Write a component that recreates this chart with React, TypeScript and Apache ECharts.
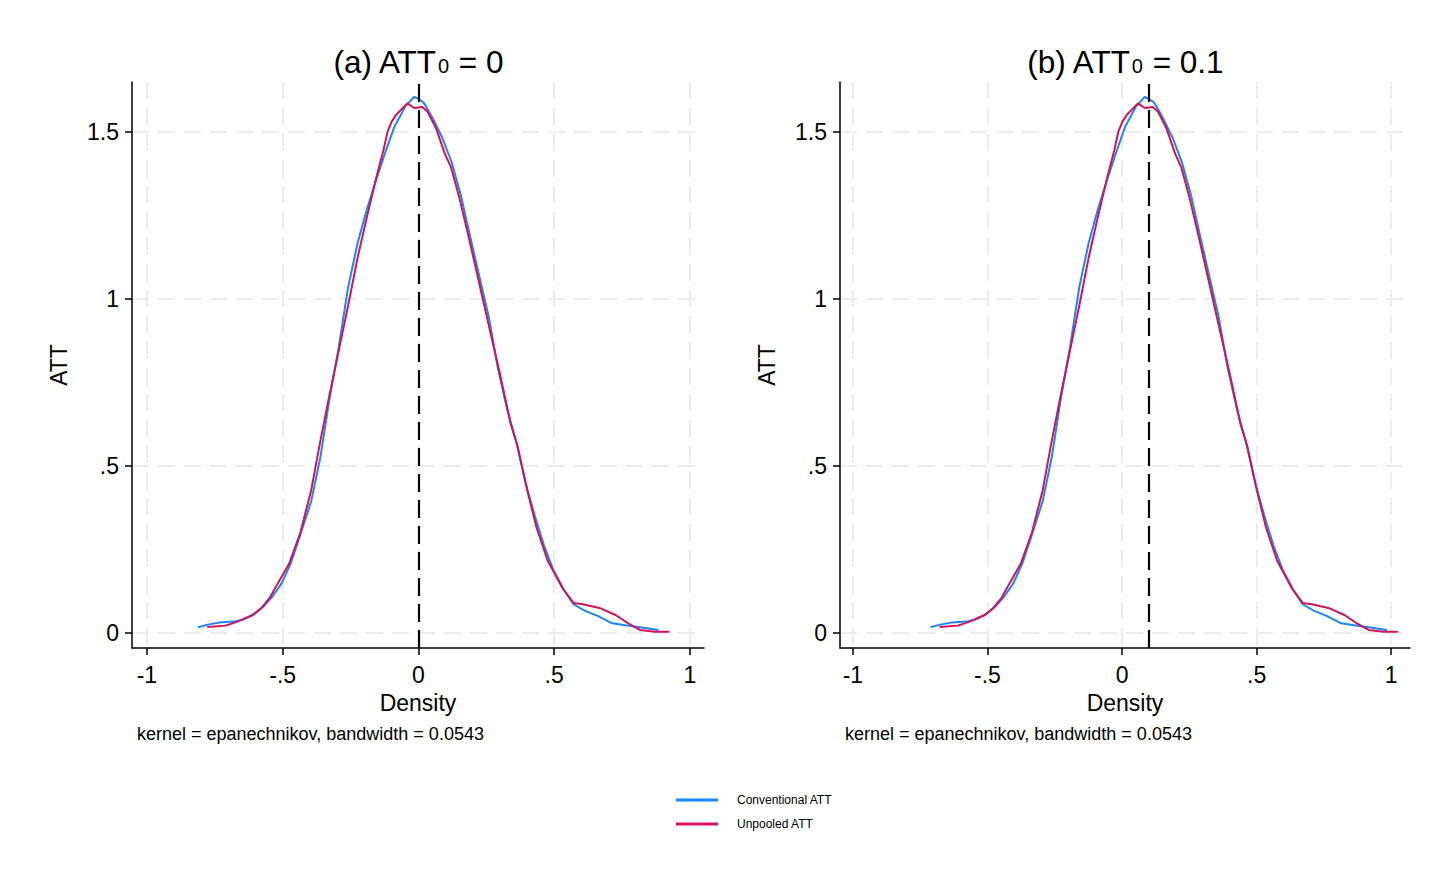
import React, { useEffect, useRef } from "react";
import * as echarts from "echarts";

const xTicks = [-1, -0.5, 0, 0.5, 1];
const yTicks = [0, 0.5, 1, 1.5];

// Panel (a): ATT0 = 0
const convX_a = [-0.812, -0.776, -0.735, -0.68, -0.646, -0.605, -0.571, -0.537, -0.503, -0.469, -0.435, -0.395, -0.361, -0.327, -0.293, -0.259, -0.224, -0.19, -0.156, -0.122, -0.088, -0.048, -0.016, 0.0, 0.02, 0.054, 0.088, 0.122, 0.156, 0.19, 0.224, 0.259, 0.293, 0.327, 0.361, 0.395, 0.429, 0.463, 0.497, 0.537, 0.571, 0.612, 0.66, 0.714, 0.762, 0.816, 0.884];
const convY_a = [0.017, 0.025, 0.031, 0.034, 0.04, 0.056, 0.079, 0.11, 0.15, 0.211, 0.294, 0.394, 0.527, 0.704, 0.858, 1.035, 1.168, 1.268, 1.356, 1.439, 1.517, 1.577, 1.605, 1.6, 1.588, 1.539, 1.483, 1.411, 1.312, 1.19, 1.069, 0.947, 0.792, 0.67, 0.571, 0.449, 0.35, 0.261, 0.189, 0.128, 0.086, 0.067, 0.051, 0.029, 0.023, 0.017, 0.009];
const unpX_a = [-0.778, -0.71, -0.667, -0.612, -0.578, -0.547, -0.517, -0.476, -0.435, -0.395, -0.361, -0.327, -0.293, -0.259, -0.224, -0.19, -0.156, -0.129, -0.113, -0.098, -0.082, -0.041, -0.016, 0.014, 0.034, 0.065, 0.098, 0.12, 0.15, 0.184, 0.218, 0.252, 0.299, 0.34, 0.365, 0.401, 0.435, 0.476, 0.531, 0.571, 0.605, 0.667, 0.728, 0.776, 0.816, 0.871, 0.925];
const unpY_a = [0.018, 0.022, 0.034, 0.053, 0.075, 0.106, 0.15, 0.208, 0.3, 0.427, 0.576, 0.715, 0.847, 0.98, 1.124, 1.245, 1.361, 1.445, 1.503, 1.532, 1.552, 1.586, 1.572, 1.575, 1.561, 1.511, 1.434, 1.395, 1.306, 1.19, 1.069, 0.947, 0.781, 0.626, 0.56, 0.427, 0.316, 0.217, 0.134, 0.09, 0.086, 0.075, 0.053, 0.027, 0.009, 0.004, 0.004];

// Panel (b): ATT0 = 0.1
const convX_b = [-0.712, -0.676, -0.635, -0.58, -0.546, -0.505, -0.471, -0.437, -0.403, -0.369, -0.335, -0.295, -0.261, -0.227, -0.193, -0.159, -0.124, -0.09, -0.056, -0.022, 0.012, 0.052, 0.084, 0.1, 0.12, 0.154, 0.188, 0.222, 0.256, 0.29, 0.324, 0.359, 0.393, 0.427, 0.461, 0.495, 0.529, 0.563, 0.597, 0.637, 0.671, 0.712, 0.76, 0.814, 0.862, 0.916, 0.984];
const convY_b = [0.017, 0.025, 0.031, 0.034, 0.04, 0.056, 0.079, 0.11, 0.15, 0.211, 0.294, 0.394, 0.527, 0.704, 0.858, 1.035, 1.168, 1.268, 1.356, 1.439, 1.517, 1.577, 1.605, 1.6, 1.588, 1.539, 1.483, 1.411, 1.312, 1.19, 1.069, 0.947, 0.792, 0.67, 0.571, 0.449, 0.35, 0.261, 0.189, 0.128, 0.086, 0.067, 0.051, 0.029, 0.023, 0.017, 0.009];
const unpX_b = [-0.678, -0.61, -0.567, -0.512, -0.478, -0.447, -0.417, -0.376, -0.335, -0.295, -0.261, -0.227, -0.193, -0.159, -0.124, -0.09, -0.056, -0.029, -0.013, 0.002, 0.018, 0.059, 0.084, 0.114, 0.134, 0.165, 0.198, 0.22, 0.25, 0.284, 0.318, 0.352, 0.399, 0.44, 0.465, 0.501, 0.535, 0.576, 0.631, 0.671, 0.705, 0.767, 0.828, 0.876, 0.916, 0.971, 1.025];
const unpY_b = [0.018, 0.022, 0.034, 0.053, 0.075, 0.106, 0.15, 0.208, 0.3, 0.427, 0.576, 0.715, 0.847, 0.98, 1.124, 1.245, 1.361, 1.445, 1.503, 1.532, 1.552, 1.586, 1.572, 1.575, 1.561, 1.511, 1.434, 1.395, 1.306, 1.19, 1.069, 0.947, 0.781, 0.626, 0.56, 0.427, 0.316, 0.217, 0.134, 0.09, 0.086, 0.075, 0.053, 0.027, 0.009, 0.004, 0.004];

const refLines = [0, 0.1];
const seriesNames = ["Conventional ATT", "Unpooled ATT"];
const colors = ["#1a85ff", "#d41159"];
const noteText = "kernel = epanechnikov, bandwidth = 0.0543";

const FONT = "Liberation Sans, Arial, sans-serif";

const fmt = (v: number) => {
  if (v === 0) return "0";
  const s = String(Math.abs(v)).replace(/^0/, "");
  return (v < 0 ? "-" : "") + s;
};

const zip = (xs: number[], ys: number[]) => xs.map((x, i) => [x, ys[i]]);

export default function App() {
  const ref = useRef<HTMLDivElement>(null);
  useEffect(() => {
    if (!ref.current) return;
    const chart = echarts.init(ref.current, null, { renderer: "svg" });
    const grids = [
      { left: 132, top: 82, width: 572, height: 566 },
      { left: 840, top: 82, width: 570, height: 566 },
    ];
    const xRanges = [
      [-1.055, 1.052],
      [-1.048, 1.07],
    ];
    const splitStyle = { color: "#ececec", width: 2, type: [17, 9] };
    const xAxes = grids.map((_, i) => ({
      type: "value",
      gridIndex: i,
      min: xRanges[i][0],
      max: xRanges[i][1],
      axisLine: { show: true, onZero: false, lineStyle: { color: "#000", width: 1.5 } },
      axisTick: { show: true, length: 7, customValues: xTicks, lineStyle: { color: "#000", width: 1.5 } },
      axisLabel: { customValues: xTicks, formatter: fmt, fontSize: 23, color: "#000", margin: 15, fontFamily: FONT },
      splitLine: { show: true, lineStyle: splitStyle },
      name: "Density",
      nameLocation: "middle",
      nameGap: 43,
      nameTextStyle: { fontSize: 23, color: "#000", fontFamily: FONT },
    }));
    const yAxes = grids.map((_, i) => ({
      type: "value",
      gridIndex: i,
      min: -0.045,
      max: 1.65,
      axisLine: { show: true, onZero: false, lineStyle: { color: "#000", width: 1.5 } },
      axisTick: { show: true, length: 7, customValues: yTicks, lineStyle: { color: "#000", width: 1.5 } },
      axisLabel: { customValues: yTicks, formatter: fmt, fontSize: 23, color: "#000", margin: 13, fontFamily: FONT },
      splitLine: { show: true, lineStyle: splitStyle },
      name: "ATT",
      nameLocation: "middle",
      nameGap: 62,
      nameRotate: 90,
      nameTextStyle: { fontSize: 23, color: "#000", fontFamily: FONT },
    }));
    const data = [
      [zip(convX_a, convY_a), zip(unpX_a, unpY_a)],
      [zip(convX_b, convY_b), zip(unpX_b, unpY_b)],
    ];
    const series: any[] = [];
    grids.forEach((_, g) => {
      seriesNames.forEach((name, k) => {
        series.push({
          type: "line",
          name,
          xAxisIndex: g,
          yAxisIndex: g,
          data: data[g][k],
          showSymbol: false,
          symbol: "none",
          color: colors[k],
          lineStyle: { color: colors[k], width: 2 },
          z: 3 + k,
          markLine:
            k === 1
              ? {
                  silent: true,
                  symbol: ["none", "none"],
                  label: { show: false },
                  lineStyle: { color: "#000", width: 2.2, type: [18, 8] },
                  data: [{ xAxis: refLines[g] }],
                }
              : undefined,
        });
      });
    });
    const titleRich = {
      a: { fontSize: 31.5, fontFamily: FONT, fill: "#000", lineHeight: 38 },
      s: { fontSize: 20, fontFamily: FONT, fill: "#000", lineHeight: 20, verticalAlign: "bottom", padding: [0, 1, 5, 1] },
    };
    const titles = ["{a|(a) ATT}{s|0}{a| = 0}", "{a|(b) ATT}{s|0}{a| = 0.1}"];
    const titleX = [418, 1125];
    const noteX = [137, 845];
    const graphic: any[] = [];
    titles.forEach((t, i) => {
      graphic.push({
        type: "text",
        x: titleX[i],
        y: 62,
        style: { text: t, align: "center", verticalAlign: "middle", rich: titleRich, fill: "#000" },
      });
      graphic.push({
        type: "text",
        x: noteX[i],
        y: 734,
        style: { text: noteText, align: "left", verticalAlign: "middle", font: `18px ${FONT}`, fill: "#000" },
      });
    });
    chart.setOption({
      animation: false,
      backgroundColor: "#fff",
      grid: grids.map((g) => ({ ...g, containLabel: false })),
      xAxis: xAxes,
      yAxis: yAxes,
      series,
      legend: {
        orient: "vertical",
        left: 671,
        top: 789,
        itemWidth: 42,
        itemHeight: 3,
        itemGap: 12,
        icon: "rect",
        selectedMode: false,
        data: seriesNames,
        textStyle: { fontSize: 12, color: "#000", fontFamily: FONT, padding: [0, 0, 0, 14] },
      },
      graphic,
    });
    return () => chart.dispose();
  }, []);
  return (
    <div
      ref={ref}
      style={{ position: "fixed", left: 0, top: 0, width: "1455px", height: "873px", background: "#fff" }}
    />
  );
}
